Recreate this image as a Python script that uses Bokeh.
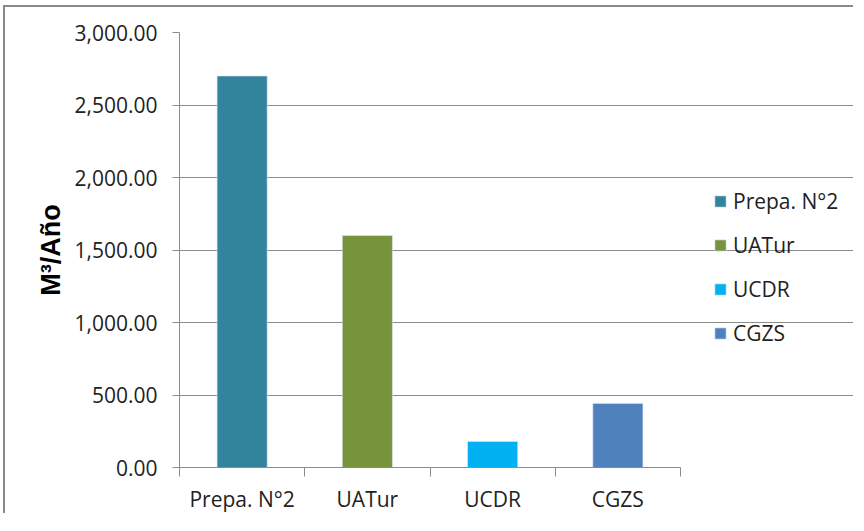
from bokeh.plotting import figure
from bokeh.models import (Range1d, FixedTicker, NumeralTickFormatter, CustomJSTickFormatter,
                          Legend, LegendItem, ColumnDataSource)
from bokeh.embed import file_html
from bokeh.resources import INLINE

categories = ["Prepa. N°2", "UATur", "UCDR", "CGZS"]
values = [2700, 1600, 180, 442]
colors = ["#31849B", "#77933C", "#00B0F0", "#4F81BD"]
y_ticks = [0, 500, 1000, 1500, 2000, 2500, 3000]
y_label = "M³/Año"

FONT = "Open Sans"
GRID = "#8c8c8c"

W, H = 850, 508
LEFT, TOP, BOTTOM = 174, 25, 46
PLOT_W = 501  # width of the category area in px; the rest of the frame holds the legend
n = len(categories)
x_end = n * (W - LEFT) / PLOT_W

p = figure(width=W, height=H,
           x_range=Range1d(0, x_end), y_range=Range1d(y_ticks[0], y_ticks[-1]),
           output_backend="svg", toolbar_location=None,
           min_border_left=LEFT, min_border_right=0, min_border_top=TOP, min_border_bottom=BOTTOM)
p.styles = {"margin-left": "3px", "margin-top": "5px",
            "border-left": "2px solid #8a8a8a", "border-top": "2px solid #8a8a8a"}
p.outline_line_color = None
p.background_fill_color = "white"
p.border_fill_color = "white"

items = []
for i, (cat, val, col) in enumerate(zip(categories, values, colors)):
    src = ColumnDataSource(dict(x=[i + 0.5], top=[val]))
    r = p.vbar(x="x", top="top", width=0.4, source=src, fill_color=col,
               line_color="#dce6f0", line_width=0.6)
    items.append(LegendItem(label=cat, renderers=[r]))

# grid
p.xgrid.visible = False
p.ygrid.ticker = FixedTicker(ticks=y_ticks)
p.ygrid.grid_line_color = GRID
p.ygrid.grid_line_width = 1
p.ygrid.bounds = (0, n)

# y axis
ya = p.yaxis[0]
ya.ticker = FixedTicker(ticks=y_ticks)
ya.formatter = NumeralTickFormatter(format="0,0.00")
ya.axis_line_color = GRID
ya.major_tick_line_color = GRID
ya.major_tick_out = 7
ya.major_tick_in = 0
ya.minor_tick_line_color = None
ya.major_label_text_font = FONT
ya.major_label_text_font_size = "21px"
ya.major_label_text_color = "#222222"
ya.major_label_standoff = 15
ya.axis_label = y_label
ya.axis_label_text_font = "Liberation Sans"
ya.axis_label_text_font_style = "bold"
ya.axis_label_text_font_size = "27px"
ya.axis_label_text_color = "#000000"
ya.axis_label_standoff = 6

# x axis: labels at category centres, ticks at category boundaries
xa = p.xaxis[0]
xa.bounds = (0, n)
xa.ticker = FixedTicker(ticks=[i + 0.5 for i in range(n)],
                        minor_ticks=list(range(n + 1)))
xa.formatter = CustomJSTickFormatter(args=dict(cats=categories),
                                     code="return cats[Math.floor(tick)] || '';")
xa.axis_line_color = GRID
xa.major_tick_line_color = None
xa.major_tick_out = 0
xa.major_tick_in = 0
xa.minor_tick_line_color = GRID
xa.minor_tick_out = 9
xa.minor_tick_in = 0
xa.major_label_text_font = FONT
xa.major_label_text_font_size = "21px"
xa.major_label_text_color = "#222222"
xa.major_label_standoff = 8

legend = Legend(items=items, location=(534, 120), orientation="vertical")
legend.label_text_font = FONT
legend.label_text_font_size = "21px"
legend.label_text_color = "#222222"
legend.glyph_width = 14
legend.glyph_height = 14
legend.label_standoff = 6
legend.spacing = 16
legend.padding = 0
legend.margin = 0
legend.border_line_color = None
legend.background_fill_alpha = 0
p.add_layout(legend, "center")

open("out.html", "w").write(file_html(p, INLINE))
